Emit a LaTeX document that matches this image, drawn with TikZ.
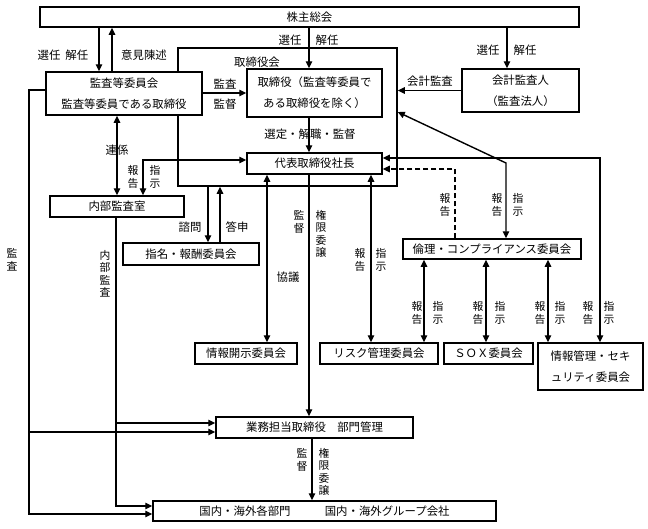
\documentclass[tikz,border=0pt]{standalone}
\usepackage{fontspec}
\newfontfamily\jpfont{Noto Sans CJK JP}
\usetikzlibrary{arrows.meta}
\newcommand\myboxfont{\jpfont\fontsize{11.4}{21}\selectfont}
\newcommand\myvlabfont{\jpfont\fontsize{10.8}{12.5}\selectfont}
\begin{document}
\begin{tikzpicture}[x=1pt,y=-1pt,
  box/.style={draw, line width=1.5pt, fill=white, inner sep=0pt, font=\myboxfont, align=center},
  lab/.style={font=\myboxfont, inner sep=0pt, align=center},
  vlab/.style={font=\myvlabfont, inner sep=0pt, align=center},
  arr/.style={line width=1.4pt, -{Triangle[length=7pt,width=6.5pt]}},
  darr/.style={line width=1.4pt, {Triangle[length=7pt,width=6.5pt]}-{Triangle[length=7pt,width=6.5pt]}},
  dsh/.style={dash pattern=on 5pt off 3pt}
  ]
\useasboundingbox (0,0) rectangle (648,528);
\fill[white] (0,0) rectangle (648,528);

% large board box
\node[draw, line width=1.5pt, minimum width=219pt, minimum height=138pt, inner sep=0pt] (torikai) at (287.5,117) {};
\node[lab] (torikaiL) at (257,62) {取締役会};

% boxes
\node[box, minimum width=539pt, minimum height=20pt] (sh) at (309.5,17) {株主総会};
\node[box, minimum width=156pt, minimum height=43pt] (kansa) at (124,93.5) {監査等委員会\\監査等委員である取締役};
\node[box, minimum width=135pt, minimum height=48pt] (tori) at (314.5,93) {取締役（監査等委員で\\ある取締役を除く）};
\node[box, minimum width=117pt, minimum height=43pt] (kaikei) at (520.5,90.5) {会計監査人\\（監査法人）};
\node[box, minimum width=135pt, minimum height=21pt] (daihyo) at (314.5,163.5) {代表取締役社長};
\node[box, minimum width=134pt, minimum height=21pt] (naibu) at (117,206.5) {内部監査室};
\node[box, minimum width=136pt, minimum height=22pt] (shimei) at (191,254) {指名・報酬委員会};
\node[box, minimum width=178pt, minimum height=20pt] (rinri) at (492,249) {倫理・コンプライアンス委員会};
\node[box, minimum width=102pt, minimum height=21pt] (joho) at (246,353.5) {情報開示委員会};
\node[box, minimum width=118pt, minimum height=21pt] (risk) at (379,353.5) {リスク管理委員会};
\node[box, minimum width=89pt, minimum height=21pt] (sox) at (488.5,353.5) {ＳＯＸ委員会};
\node[box, minimum width=105pt, minimum height=47pt] (sec) at (590.5,366.5) {情報管理・セキ\\ュリティ委員会};
\node[box, minimum width=197pt, minimum height=21pt] (gyomu) at (314.5,427.5) {業務担当取締役　部門管理};
\node[box, minimum width=343pt, minimum height=20pt] (kokunai) at (324.5,511) {国内・海外各部門　　　国内・海外グループ会社};

% connectors
\draw[arr] (sh.south -| 99,0) -- (kansa.north -| 99,0);
\draw[arr] (kansa.north -| 112,0) -- (sh.south -| 112,0);
\draw[arr] (sh.south -| 309,0) -- (tori.north -| 309,0);
\draw[arr] (sh.south -| 507,0) -- (kaikei.north -| 507,0);
\draw[arr] (kansa.east |- 0,93) -- (tori.west |- 0,93);
\draw[arr] (kaikei.west) -- (kaikei.west -| torikai.east);
\draw[arr] (tori.south -| 309,0) -- (daihyo.north -| 309,0);
\draw[darr] (kansa.south -| 117,0) -- (naibu.north -| 117,0);
\draw[darr] (daihyo.west |- 0,160) -- (143,160) -- (naibu.north -| 143,0);
\draw[arr] (torikai.south -| 208,0) -- (shimei.north -| 208,0);
\draw[arr] (shimei.north -| 220,0) -- (torikai.south -| 220,0);
\draw[darr] (daihyo.south -| 267,0) -- (joho.north -| 267,0);
\draw[arr] (daihyo.south -| 309,0) -- (gyomu.north -| 309,0);
\draw[darr] (daihyo.south -| 371,0) -- (risk.north -| 371,0);
\draw[darr] (daihyo.east |- 0,158) -- (600,158) -- (sec.north -| 600,0);
\draw[arr, dsh] (rinri.north -| 455,0) -- (455,169) -- (daihyo.east |- 0,169);
\draw[darr] (rinri.north -| 506,0) -- (506,163) -- (torikai.east |- 0,112);
\draw[darr] (rinri.south -| 424,0) -- (risk.north -| 424,0);
\draw[darr] (rinri.south -| 486,0) -- (sox.north -| 486,0);
\draw[darr] (rinri.south -| 548,0) -- (sec.north -| 548,0);
\draw[arr] (kansa.west |- 0,90) -- (29,90) -- (29,514) -- (kokunai.west |- 0,514);
\draw[arr] (29,432) -- (gyomu.west |- 0,432);
\draw[arr] (naibu.south -| 116,0) -- (116,506) -- (kokunai.west |- 0,506);
\draw[arr] (116,423) -- (gyomu.west |- 0,423);
\draw[arr] (gyomu.south -| 312,0) -- (kokunai.north -| 312,0);

% horizontal labels
\node[lab] (l1) at (63,55) {選任\hspace{5pt}解任};
\node[lab] (l2) at (144,55) {意見陳述};
\node[lab] (l3) at (290,40) {選任};
\node[lab] (l4) at (327,40) {解任};
\node[lab] (l5) at (488,50) {選任};
\node[lab] (l6) at (525,50) {解任};
\node[lab] (l7) at (225,84) {監査};
\node[lab] (l8) at (225,104) {監督};
\node[lab] (l9) at (430,81) {会計監査};
\node[lab] (l10) at (310,134) {選定・解職・監督};
\node[lab] (l11) at (117,150) {連係};
\node[lab] (l12) at (190,227) {諮問};
\node[lab] (l13) at (237,227) {答申};
\node[lab] (l14) at (288,277) {協議};

% vertical labels
\node[vlab] (v1) at (133,177) {報\\告};
\node[vlab] (v2) at (155,177) {指\\示};
\node[vlab] (v3) at (12,260) {監\\査};
\node[vlab] (v4) at (105,274) {内\\部\\監\\査};
\node[vlab] (v5) at (299,222) {監\\督};
\node[vlab] (v6) at (321,234) {権\\限\\委\\譲};
\node[vlab] (v7) at (360,260) {報\\告};
\node[vlab] (v8) at (381,260) {指\\示};
\node[vlab] (v9) at (445,205) {報\\告};
\node[vlab] (v10) at (497,205) {報\\告};
\node[vlab] (v11) at (518,205) {指\\示};
\node[vlab] (v12) at (417,313) {報\\告};
\node[vlab] (v13) at (438,313) {指\\示};
\node[vlab] (v14) at (478,313) {報\\告};
\node[vlab] (v15) at (500,313) {指\\示};
\node[vlab] (v16) at (540,313) {報\\告};
\node[vlab] (v17) at (560,313) {指\\示};
\node[vlab] (v18) at (588,313) {報\\告};
\node[vlab] (v19) at (609,313) {指\\示};
\node[vlab] (v20) at (302,460) {監\\督};
\node[vlab] (v21) at (324,472) {権\\限\\委\\譲};
\end{tikzpicture}
\end{document}
